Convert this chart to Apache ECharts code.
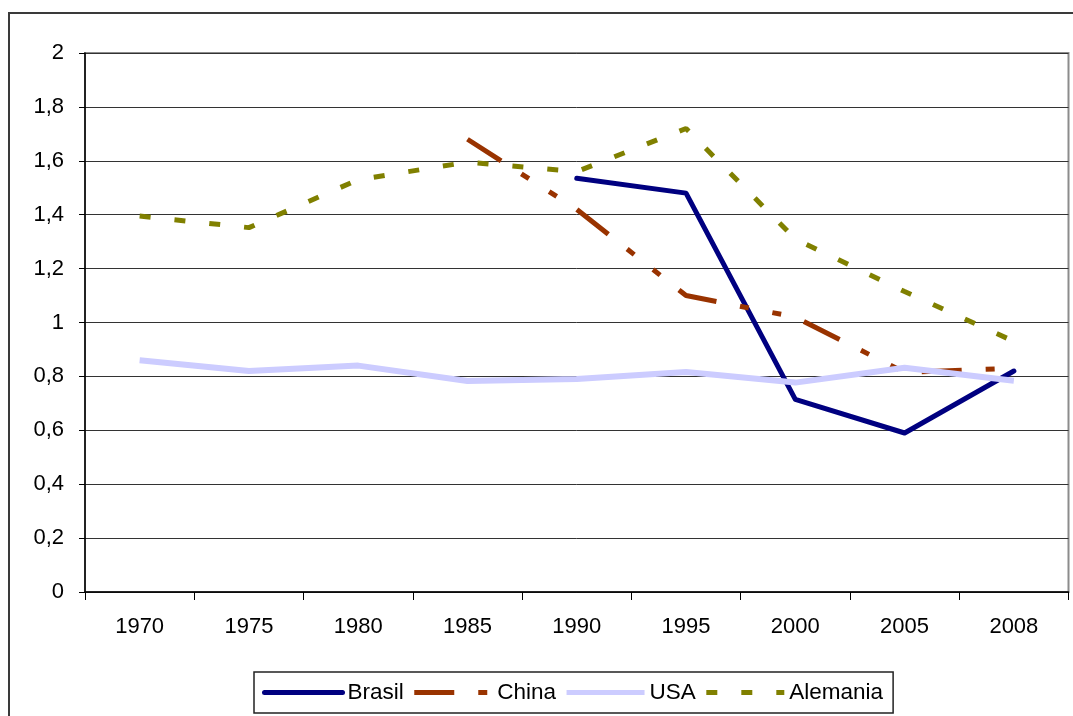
<!DOCTYPE html>
<html>
<head>
<meta charset="utf-8">
<title>Brasil, China, USA, Alemania 1970–2008</title>
<script src="https://cdn.jsdelivr.net/npm/echarts@6/dist/echarts.min.js"></script>
<style>
  html, body { margin: 0; padding: 0; background: #ffffff; }
  #chart { width: 1073px; height: 716px; }
</style>
</head>
<body>
<div id="chart"></div>
<script>
// Years on the horizontal axis
const years = ['1970', '1975', '1980', '1985', '1990', '1995', '2000', '2005', '2008'];

// Series values (null = no data for that year)
const brasil   = [null, null, null, null, 1.535, 1.48, 0.715, 0.59, 0.82];
const china    = [null, null, null, 1.68, 1.42, 1.10, 1.02, 0.815, 0.83];
const usa      = [0.86, 0.82, 0.84, 0.783, 0.79, 0.816, 0.777, 0.832, 0.784];
const alemania = [1.395, 1.352, 1.53, 1.595, 1.56, 1.72, 1.31, 1.115, 0.93];

// Value-axis tick labels (decimal comma)
const yTickLabels = ['0', '0,2', '0,4', '0,6', '0,8', '1', '1,2', '1,4', '1,6', '1,8', '2'];

const FONT = '"Liberation Sans", Arial, Helvetica, sans-serif';

const chart = echarts.init(document.getElementById('chart'), null, { renderer: 'canvas' });

chart.setOption({
  animation: false,
  backgroundColor: '#ffffff',
  textStyle: { fontFamily: FONT, color: '#000000' },
  graphic: [
    {
      // outer chart frame
      type: 'rect',
      z: -10,
      shape: { x: 9, y: 13, width: 1080, height: 720 },
      style: { fill: 'none', stroke: '#3a3a3a', lineWidth: 2 }
    }
  ],
  grid: {
    left: 85,
    right: 4.5,
    top: 53,
    bottom: 124,
    show: true,
    borderColor: '#8c8c8c',
    borderWidth: 2,
    backgroundColor: 'transparent'
  },
  legend: {
    left: 254,
    top: 672,
    padding: [9, 10, 9, 8],
    itemGap: 8,
    itemWidth: 78,
    itemHeight: 20,
    borderColor: '#222222',
    borderWidth: 1.5,
    backgroundColor: '#ffffff',
    // legend keys show only the line sample of each series
    itemStyle: { opacity: 0, borderWidth: 0 },
    lineStyle: { width: 5 },
    textStyle: { fontFamily: FONT, fontSize: 22.5, color: '#000000' },
    data: ['Brasil', 'China', 'USA', 'Alemania']
  },
  xAxis: {
    type: 'category',
    data: years,
    boundaryGap: true,
    axisLine: { show: true, lineStyle: { color: '#000000', width: 1.5 } },
    axisTick: { show: true, length: 8, lineStyle: { color: '#000000', width: 1 } },
    axisLabel: { fontFamily: FONT, fontSize: 22, color: '#000000', margin: 24 },
    splitLine: { show: false }
  },
  yAxis: {
    type: 'value',
    min: 0,
    max: 2,
    interval: 0.2,
    axisLine: { show: true, lineStyle: { color: '#000000', width: 1.5 } },
    axisTick: { show: true, length: 6, lineStyle: { color: '#000000', width: 1 } },
    axisLabel: {
      fontFamily: FONT,
      fontSize: 22,
      color: '#000000',
      margin: 21,
      formatter: function (value, index) { return yTickLabels[index]; }
    },
    splitLine: { show: true, lineStyle: { color: '#333333', width: 1 } }
  },
  series: [
    {
      name: 'Brasil',
      type: 'line',
      data: brasil,
      symbol: 'none',
      connectNulls: false,
      color: '#000080',
      lineStyle: { color: '#000080', width: 5, cap: 'round', join: 'round' }
    },
    {
      name: 'China',
      type: 'line',
      data: china,
      symbol: 'none',
      connectNulls: false,
      color: '#993300',
      lineStyle: { color: '#993300', width: 5, type: [40, 24, 9, 24, 9, 24], cap: 'butt' }
    },
    {
      name: 'USA',
      type: 'line',
      data: usa,
      symbol: 'none',
      color: '#ccccff',
      lineStyle: { color: '#ccccff', width: 6 }
    },
    {
      name: 'Alemania',
      type: 'line',
      data: alemania,
      symbol: 'none',
      color: '#808000',
      lineStyle: { color: '#808000', width: 5, type: [11, 24], cap: 'butt' }
    }
  ]
});
</script>
</body>
</html>
